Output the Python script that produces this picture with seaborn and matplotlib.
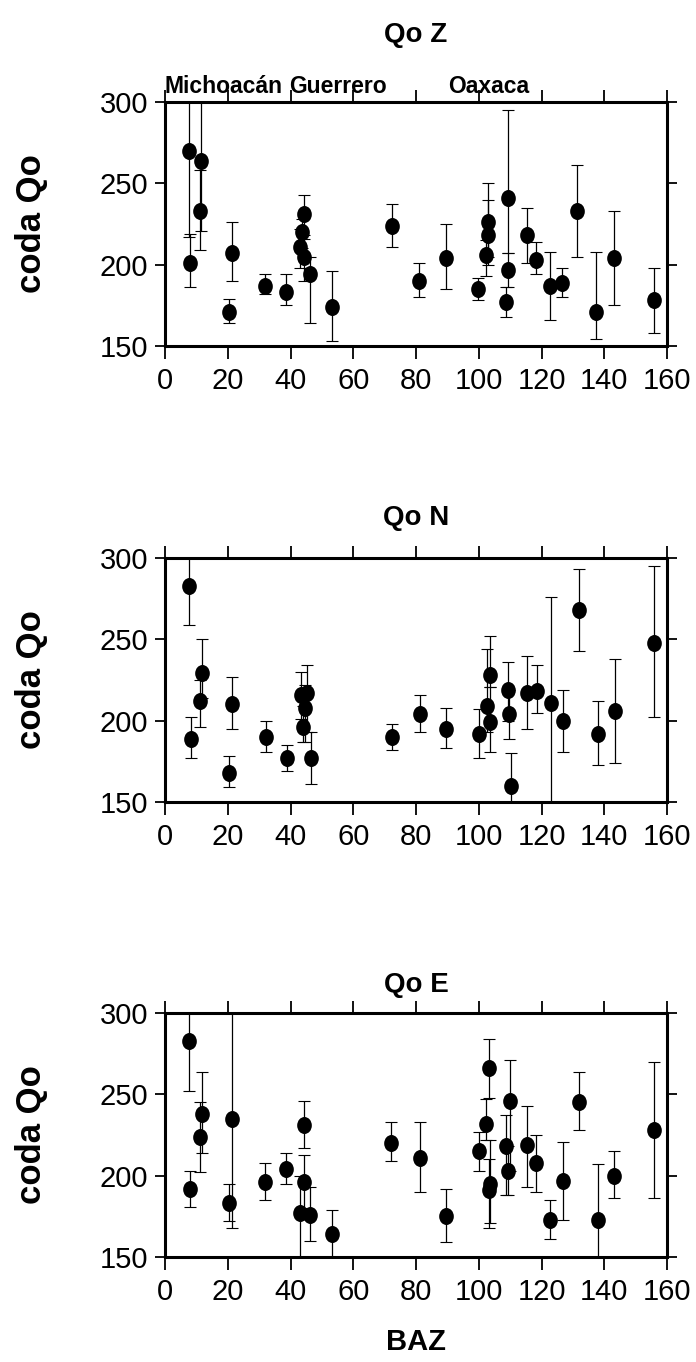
import numpy as np
import pandas as pd
import matplotlib
matplotlib.use("Agg")
import matplotlib.pyplot as plt
import seaborn as sns
from matplotlib.path import Path
from matplotlib.markers import MarkerStyle
from matplotlib.transforms import Affine2D, blended_transform_factory

# ---------------- data ----------------
z_baz = [7.6, 8.0, 11.5, 11.1, 20.4, 21.2, 31.8, 38.7, 44.4, 43.8, 43.0, 44.3, 46.2, 53.2,
         72.2, 81.0, 89.7, 99.7, 102.2, 102.8, 103.1, 109.2, 109.2, 108.8, 115.5, 118.4,
         122.8, 126.6, 131.2, 137.5, 143.2, 155.7]
z_qo = [270, 201, 264, 233, 171, 207, 187, 183, 231, 220, 211, 205, 194, 174,
        224, 190, 204, 185, 206, 226, 218, 241, 197, 177, 218, 203,
        187, 189, 233, 171, 204, 178]
z_lo = [217, 186, 221, 209, 164, 190, 182, 175, 216, 210, 198, 190, 164, 153,
        211, 180, 185, 178, 193, 205, 200, 207, 186, 168, 201, 194,
        166, 180, 205, 154, 175, 158]
z_hi = [310, 219, 310, 258, 179, 226, 194, 194, 243, 228, 222, 218, 205, 196,
        237, 201, 225, 192, 215, 250, 240, 295, 207, 186, 235, 214,
        208, 198, 261, 208, 233, 198]

n_baz = [7.7, 8.2, 11.8, 11.3, 20.5, 21.5, 32.2, 39.0, 43.2, 45.1, 44.6, 44.1, 46.5,
         72.3, 81.2, 89.7, 100.0, 103.5, 102.6, 103.7, 109.3, 109.7, 110.3, 115.5,
         118.6, 123.0, 127.0, 131.8, 137.9, 143.3, 155.8]
n_qo = [283, 189, 229, 212, 168, 210, 190, 177, 216, 217, 208, 196, 177,
        190, 204, 195, 192, 228, 209, 199, 219, 204, 160, 217,
        218, 211, 200, 268, 192, 206, 248]
n_lo = [259, 177, 214, 196, 159, 195, 181, 169, 201, 193, 187, 187, 161,
        182, 193, 183, 177, 221, 193, 181, 200, 189, 148, 195,
        205, 148, 181, 243, 173, 174, 202]
n_hi = [305, 202, 250, 225, 178, 227, 200, 185, 230, 234, 222, 209, 193,
        198, 216, 208, 207, 252, 244, 221, 236, 219, 180, 240,
        234, 276, 219, 293, 212, 238, 295]

e_baz = [7.6, 8.0, 11.7, 11.1, 20.4, 21.2, 32.0, 38.7, 44.3, 44.2, 43.0, 46.2, 53.1,
         72.1, 81.2, 89.7, 100.0, 103.2, 102.4, 103.5, 103.2, 110.0, 108.8, 109.4,
         115.4, 118.4, 122.8, 126.9, 131.8, 137.9, 143.1, 155.8]
e_qo = [283, 192, 238, 224, 183, 235, 196, 204, 231, 196, 177, 176, 164,
        220, 211, 175, 215, 266, 232, 195, 191, 246, 218, 203,
        219, 208, 173, 197, 245, 173, 200, 228]
e_lo = [252, 181, 214, 202, 172, 168, 185, 195, 217, 180, 148, 160, 148,
        209, 190, 159, 203, 248, 222, 171, 168, 203, 188, 188,
        193, 190, 161, 173, 228, 148, 186, 186]
e_hi = [305, 203, 264, 245, 195, 305, 208, 214, 246, 213, 200, 193, 179,
        233, 233, 192, 227, 284, 247, 222, 210, 271, 237, 218,
        243, 225, 185, 221, 264, 207, 215, 270]

panel_titles = ["Qo Z", "Qo N", "Qo E"]
regions = ["Michoacán", "Guerrero", "Oaxaca"]
x_ticks = [0, 20, 40, 60, 80, 100, 120, 140, 160]
y_ticks = [150, 200, 250, 300]
y_label = "coda Qo"
x_label = "BAZ"

# ---------------- layout ----------------
W, H = 696, 1362
sns.set_style("ticks")
plt.rcParams['font.family'] = ['Liberation Sans', 'DejaVu Sans']
plt.rcParams['text.color'] = 'black'
plt.rcParams['axes.labelcolor'] = 'black'
plt.rcParams['xtick.color'] = 'black'
plt.rcParams['ytick.color'] = 'black'

fig = plt.figure(figsize=(W / 100, H / 100), dpi=100)

ax_left_px, ax_right_px = 165, 667
panel_px = [(102, 346), (558, 802), (1013, 1257)]
title_px = [35, 518, 985]
region_x = [0, 39.6, 90.3]

ellipse = MarkerStyle(Affine2D().scale(1.0, 1.16).transform_path(Path.unit_circle()))

panels = [(z_baz, z_qo, z_lo, z_hi), (n_baz, n_qo, n_lo, n_hi), (e_baz, e_qo, e_lo, e_hi)]

for i, ((bz, qo, lo, hi), (top, bot)) in enumerate(zip(panels, panel_px)):
    ax = fig.add_axes([ax_left_px / W, 1 - bot / H,
                       (ax_right_px - ax_left_px) / W, (bot - top) / H])
    df = pd.DataFrame({"BAZ": bz, "Qo": qo, "lo": lo, "hi": hi})
    ax.errorbar(df["BAZ"], df["Qo"],
                yerr=[df["Qo"] - df["lo"], df["hi"] - df["Qo"]],
                fmt="none", ecolor="black", elinewidth=0.9,
                capsize=4.5, capthick=0.8, zorder=2)
    sns.scatterplot(data=df, x="BAZ", y="Qo", ax=ax, marker=ellipse, s=150,
                    color="black", edgecolor="black", linewidth=0, zorder=3)
    ax.set_xlim(0, 160)
    ax.set_ylim(150, 300)
    ax.set_xticks(x_ticks)
    ax.set_yticks(y_ticks)
    ax.set_xlabel("")
    ax.set_ylabel("")
    for sp in ax.spines.values():
        sp.set_visible(True)
        sp.set_linewidth(2.2)
        sp.set_color("black")
    ax.tick_params(axis="x", direction="out", length=9, width=1.3, top=True,
                   labelsize=21, pad=6, colors="black")
    ax.tick_params(axis="y", direction="out", length=7, width=1.3, right=True,
                   labelsize=21, pad=5, colors="black")

    fig.text(0.5 * (ax_left_px + ax_right_px) / W, 1 - title_px[i] / H,
             panel_titles[i], ha="center", va="center", fontsize=20,
             fontweight="bold", color="black")
    fig.text(31 / W, 1 - 0.5 * (top + bot) / H, y_label, rotation=90,
             ha="center", va="center", fontsize=25, fontweight="bold",
             color="black")

    if i == 0:
        tr = blended_transform_factory(ax.transData, ax.transAxes)
        for name, rx in zip(regions, region_x):
            ax.text(rx, 1.035, name, transform=tr, ha="left", va="baseline",
                    fontsize=16.5, fontweight="bold", color="black")

fig.text(0.5 * (ax_left_px + ax_right_px) / W, 1 - 1342 / H, x_label,
         ha="center", va="center", fontsize=21, fontweight="bold",
         color="black")

fig.savefig("out.png", dpi=100, facecolor="white")
